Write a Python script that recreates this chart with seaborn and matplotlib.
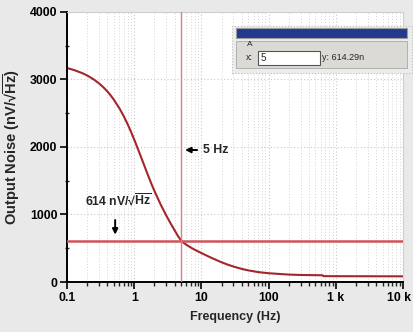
import matplotlib
matplotlib.use("Agg")
import matplotlib.pyplot as plt
import matplotlib.ticker as mticker
import matplotlib.transforms as mtrans
from matplotlib.patches import Rectangle
import seaborn as sns
import pandas as pd

# ---- data ----
freq_hz = [0.1, 0.13, 0.17, 0.2, 0.25, 0.3, 0.35, 0.4, 0.45, 0.5, 0.6, 0.7, 0.8, 0.9,
           1.0, 1.2, 1.4, 1.6, 1.8, 2.0, 2.5, 3.0, 3.5, 4.0, 4.5, 5.0, 5.5, 6.0, 7.0,
           8.0, 10, 12, 15, 20, 25, 30, 40, 50, 70, 100, 150, 200, 300, 600, 640,
           660, 1000, 3000, 10000]
noise_nv = [3170, 3136, 3092, 3058, 3000, 2941, 2881, 2820, 2759, 2697, 2575, 2454,
            2335, 2220, 2110, 1909, 1735, 1584, 1456, 1348, 1139, 985, 864, 765, 678,
            614, 577, 551, 509, 477, 429, 391, 346, 292, 255, 229, 194, 172, 147, 130,
            118, 110, 104, 100, 99, 87, 86, 85, 84]
cursor_freq = 5
cursor_noise = 614
x_ticks = [0.1, 1, 10, 100, 1000, 10000]
x_tick_labels = ["0.1", "1", "10", "100", "1 k", "10 k"]
y_ticks = [0, 1000, 2000, 3000, 4000]

df = pd.DataFrame({"f": freq_hz, "n": noise_nv})

sns.set_style("white")
plt.rcParams["font.family"] = ["Liberation Sans", "DejaVu Sans"]
plt.rcParams["font.weight"] = "bold"
plt.rcParams["mathtext.fontset"] = "custom"
plt.rcParams["mathtext.rm"] = "Liberation Sans:bold"
plt.rcParams["mathtext.bf"] = "Liberation Sans:bold"
plt.rcParams["mathtext.it"] = "Liberation Sans:bold"
plt.rcParams["mathtext.sf"] = "Liberation Sans:bold"

fig = plt.figure(figsize=(4.14, 3.32), dpi=100, facecolor="#e9e9e9")
ax = fig.add_axes([0.162, 0.1506, 0.811, 0.8134])
ax.set_facecolor("white")

sns.lineplot(data=df, x="f", y="n", ax=ax, color="#a3262c", linewidth=1.5)

ax.set_xscale("log")
ax.set_xlim(0.1, 10000)
ax.set_ylim(0, 4000)

ax.axhline(cursor_noise, color="#d0545a", linewidth=1.8, zorder=3)
ax.axvline(cursor_freq, color="#e07a7e", linewidth=1.0, zorder=3)

ax.set_xticks(x_ticks)
ax.set_xticklabels(x_tick_labels)
ax.set_yticks(y_ticks)
ax.xaxis.set_minor_locator(mticker.LogLocator(base=10, subs=range(2, 10), numticks=20))
ax.xaxis.set_minor_formatter(mticker.NullFormatter())
ax.yaxis.set_minor_locator(mticker.MultipleLocator(500))

ax.grid(which="major", axis="both", linestyle=(0, (1, 2)), color="#c8c8c8", linewidth=0.8)
ax.grid(which="minor", axis="x", linestyle=(0, (1, 2)), color="#d4d4d4", linewidth=0.7)

ax.tick_params(axis="both", which="major", direction="out", length=5, width=1.2,
               colors="black", labelsize=8.8, pad=2, left=True, bottom=True)
ax.tick_params(axis="x", which="minor", direction="out", length=3, width=1.0, bottom=True)
ax.tick_params(axis="y", which="minor", direction="inout", length=3, width=1.0, left=True)
for lbl in ax.get_xticklabels() + ax.get_yticklabels():
    lbl.set_fontweight("bold")
last = ax.get_xticklabels()[-1]
last.set_transform(last.get_transform() +
                   mtrans.ScaledTranslation(-4 / 100, 0, fig.dpi_scale_trans))

for s in ["left", "bottom"]:
    ax.spines[s].set_color("black")
    ax.spines[s].set_linewidth(1.4)
for s in ["top", "right"]:
    ax.spines[s].set_color("#cfcfcf")
    ax.spines[s].set_linewidth(0.8)

sqrt_hz = "\u221a" + r"$\overline{\mathrm{Hz}}$"
ax.set_xlabel("Frequency (Hz)", fontsize=9, fontweight="bold", labelpad=5)
ax.set_ylabel("Output Noise (nV/" + sqrt_hz + ")", fontsize=10.5,
              fontweight="bold", labelpad=6)

# annotations
ax.annotate("", xy=(5.2, 1955), xytext=(9.5, 1955),
            arrowprops=dict(arrowstyle="-|>", color="black", lw=1.4,
                            mutation_scale=8))
ax.text(10.6, 1955, "5 Hz", fontsize=8.8, fontweight="bold",
        va="center", ha="left")
ax.text(0.185, 1215, "614 nV/" + sqrt_hz, fontsize=8.8, fontweight="bold",
        va="center", ha="left")
ax.annotate("", xy=(0.52, 660), xytext=(0.52, 960),
            arrowprops=dict(arrowstyle="-|>", color="black", lw=1.4,
                            mutation_scale=8))

# cursor readout panel
W, H = 414.0, 332.0
def fx(px): return px / W
def fy(py): return 1 - py / H

fig.patches.append(Rectangle((fx(232), fy(73)), fx(180), 47 / H, transform=fig.transFigure,
                             facecolor="#ececec", edgecolor="#bdbdbd", linestyle=":",
                             linewidth=0.8, zorder=5))
fig.patches.append(Rectangle((fx(236), fy(38)), fx(171), 10 / H, transform=fig.transFigure,
                             facecolor="#23398e", edgecolor="#9a9a9a", linewidth=0.8,
                             zorder=6))
fig.patches.append(Rectangle((fx(236), fy(68)), fx(171), 27 / H, transform=fig.transFigure,
                             facecolor="#dcdad4", edgecolor="#a8a8a8", linewidth=0.6,
                             zorder=6))
fig.patches.append(Rectangle((fx(258), fy(65)), fx(62), 14 / H, transform=fig.transFigure,
                             facecolor="white", edgecolor="#555555", linewidth=0.8,
                             zorder=7))
fig.text(fx(247), fy(45), "A", fontsize=6, fontweight="normal", va="center", zorder=8)
fig.text(fx(246), fy(58), "x:", fontsize=6.5, fontweight="normal", va="center", zorder=8)
fig.text(fx(261), fy(58), "5", fontsize=7, fontweight="normal", va="center", zorder=8)
fig.text(fx(322), fy(58), "y: 614.29n", fontsize=6.5, fontweight="normal", va="center",
         zorder=8)

fig.savefig("out.png", dpi=100, facecolor=fig.get_facecolor())
